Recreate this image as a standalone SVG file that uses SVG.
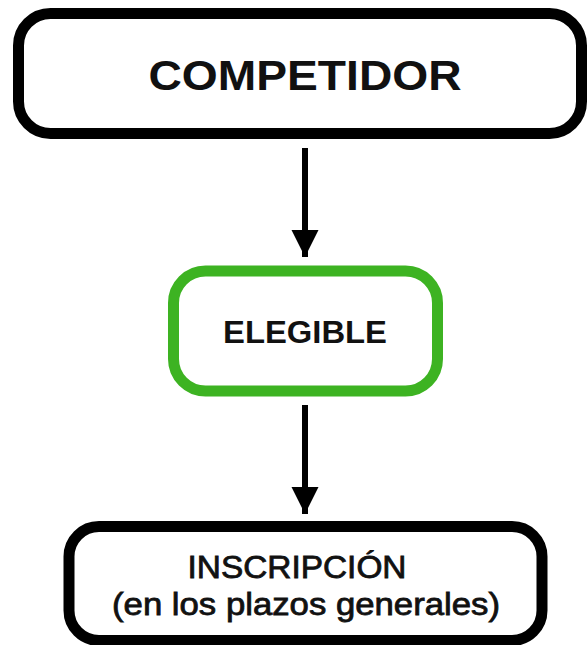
<svg xmlns="http://www.w3.org/2000/svg" width="587" height="645" viewBox="0 0 587 645">
<style>
.box{fill:#fff;stroke:#000;stroke-width:11}
.green{stroke:#3db322}
.t{font-family:"Liberation Sans",Arial,Helvetica,sans-serif;fill:#111;text-anchor:middle}
.b{font-weight:bold}
.m{stroke:#111;stroke-width:0.8}
.conn{stroke:#000;stroke-width:6;fill:none}
</style>
<defs>
<marker id="ah" viewBox="0 0 27 28" refX="27" refY="13.5" markerWidth="27" markerHeight="28" markerUnits="userSpaceOnUse" orient="auto">
<path d="M0,0 L27,13.5 L0,27 Z" fill="#000"/>
</marker>
</defs>
<rect width="587" height="645" fill="#fff"/>
<g id="connectors">
<line class="conn" x1="305" y1="148" x2="305" y2="257" marker-end="url(#ah)"/>
<line class="conn" x1="305" y1="405" x2="305" y2="514" marker-end="url(#ah)"/>
</g>
<g id="competidor">
<rect class="box" x="18.5" y="13.5" width="563" height="120" rx="32"/>
<text class="t b" x="305" y="90" font-size="42" textLength="313" lengthAdjust="spacingAndGlyphs">COMPETIDOR</text>
</g>
<g id="elegible">
<rect class="box green" x="173.5" y="271" width="264" height="120" rx="32"/>
<text class="t b" x="305" y="343" font-size="31" textLength="164" lengthAdjust="spacingAndGlyphs">ELEGIBLE</text>
</g>
<g id="inscripcion">
<rect class="box" x="69" y="526.5" width="473" height="114" rx="30"/>
<text class="t m" x="297" y="578" font-size="31" textLength="219" lengthAdjust="spacingAndGlyphs">INSCRIPCIÓN</text>
<text class="t m" x="306" y="615" font-size="31" textLength="388" lengthAdjust="spacingAndGlyphs">(en los plazos generales)</text>
</g>
</svg>
